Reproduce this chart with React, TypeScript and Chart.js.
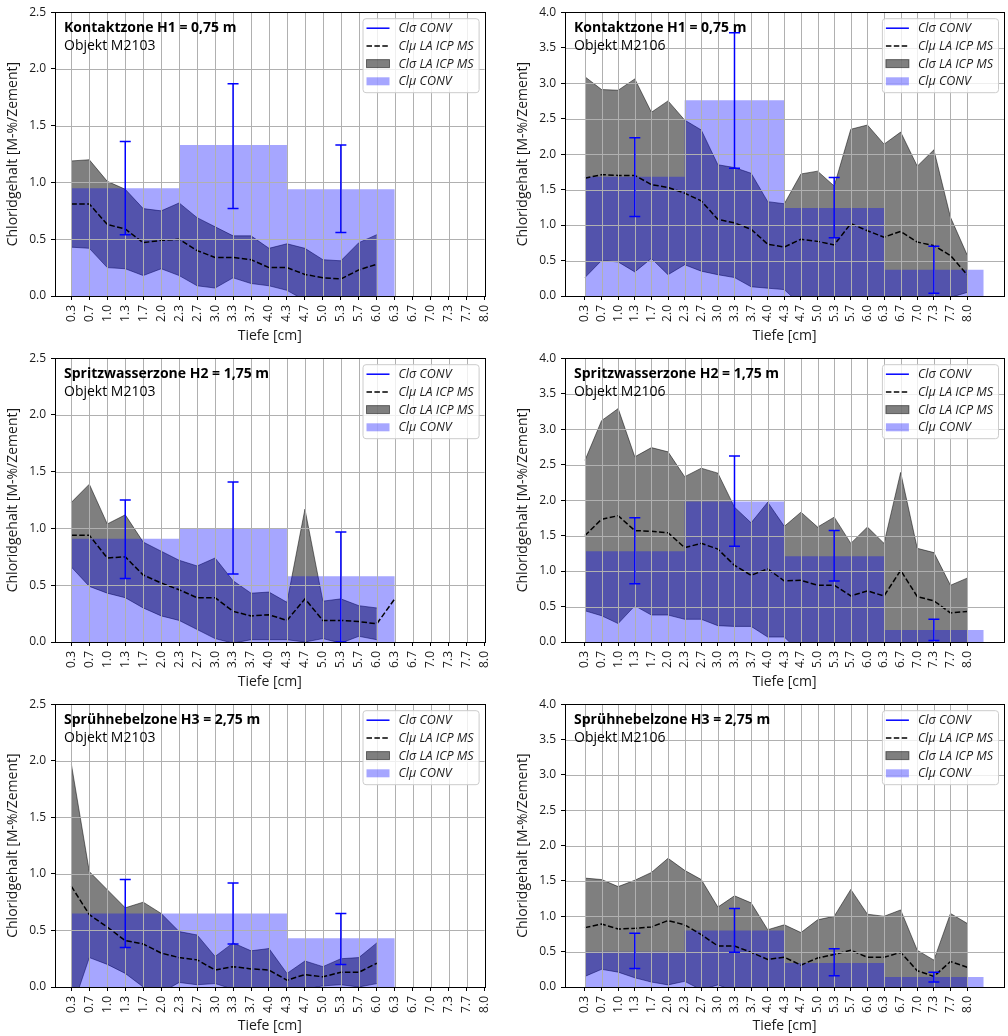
import React, { useEffect, useRef } from "react";
import { Chart, registerables } from "chart.js";

Chart.register(...registerables);

const FONT = '"Open Sans", "DejaVu Sans", sans-serif';

// depth positions (cm) and their tick labels
const DEPTH = [1/3, 2/3, 1, 4/3, 5/3, 2, 7/3, 8/3, 3, 10/3, 11/3, 4, 13/3, 14/3, 5, 16/3, 17/3, 6, 19/3, 20/3, 7, 22/3, 23/3, 8];
const TICK_LABELS = ["0.3", "0.7", "1.0", "1.3", "1.7", "2.0", "2.3", "2.7", "3.0", "3.3", "3.7", "4.0", "4.3", "4.7", "5.0", "5.3", "5.7", "6.0", "6.3", "6.7", "7.0", "7.3", "7.7", "8.0"];
// conventional sampling layers (edges) and their centres
const CONV_EDGES = [1/3, 7/3, 13/3, 19/3, 25/3];
const CONV_CENTERS = [4/3, 10/3, 16/3, 22/3];

const LEGEND_LABELS = ["Clσ CONV", "Clμ LA ICP MS", "Clσ LA ICP MS", "Clμ CONV"];
const Y_TITLE = "Chloridgehalt [M-%/Zement]";
const X_TITLE = "Tiefe [cm]";

// ---- M2103, H1
const M2103_H1_UPPER = [1.19, 1.20, 1.01, 0.94, 0.77, 0.75, 0.82, 0.69, 0.61, 0.53, 0.53, 0.42, 0.46, 0.42, 0.32, 0.31, 0.47, 0.54];
const M2103_H1_LOWER = [0.43, 0.42, 0.25, 0.24, 0.18, 0.24, 0.18, 0.09, 0.07, 0.16, 0.11, 0.09, 0.05, -0.04, -0.08, -0.08, -0.05, -0.02];
const M2103_H1_MEAN = [0.81, 0.81, 0.63, 0.59, 0.47, 0.49, 0.50, 0.40, 0.34, 0.34, 0.32, 0.25, 0.25, 0.19, 0.16, 0.15, 0.23, 0.28];
const M2103_H1_CONV = [0.95, 1.33, 0.94];
const M2103_H1_CONV_LO = [0.54, 0.77, 0.56];
const M2103_H1_CONV_HI = [1.36, 1.87, 1.33];

// ---- M2106, H1
const M2106_H1_UPPER = [3.09, 2.91, 2.90, 3.06, 2.59, 2.75, 2.48, 2.34, 1.85, 1.81, 1.73, 1.33, 1.30, 1.72, 1.76, 1.55, 2.35, 2.41, 2.14, 2.31, 1.83, 2.06, 1.11, 0.58];
const M2106_H1_LOWER = [0.26, 0.50, 0.48, 0.34, 0.53, 0.30, 0.44, 0.35, 0.30, 0.26, 0.13, 0.11, 0.09, -0.13, -0.15, -0.15, -0.15, -0.15, -0.15, -0.15, -0.12, -0.08, -0.02, 0.05];
const M2106_H1_MEAN = [1.66, 1.71, 1.70, 1.70, 1.57, 1.53, 1.45, 1.34, 1.08, 1.03, 0.94, 0.73, 0.69, 0.80, 0.77, 0.72, 1.02, 0.92, 0.83, 0.91, 0.76, 0.71, 0.57, 0.30];
const M2106_H1_CONV = [1.68, 2.76, 1.24, 0.37];
const M2106_H1_CONV_LO = [1.12, 1.80, 0.82, 0.04];
const M2106_H1_CONV_HI = [2.23, 3.71, 1.67, 0.70];

// ---- M2103, H2
const M2103_H2_UPPER = [1.23, 1.39, 1.04, 1.12, 0.88, 0.80, 0.72, 0.67, 0.74, 0.54, 0.43, 0.44, 0.35, 1.17, 0.36, 0.38, 0.32, 0.30];
const M2103_H2_LOWER = [0.66, 0.49, 0.43, 0.39, 0.30, 0.23, 0.19, 0.11, 0.03, -0.01, 0.02, 0.02, 0.02, 0.00, 0.03, -0.01, 0.05, 0.02];
const M2103_H2_MEAN = [0.94, 0.94, 0.74, 0.75, 0.59, 0.52, 0.46, 0.39, 0.39, 0.27, 0.23, 0.24, 0.19, 0.38, 0.19, 0.19, 0.18, 0.16, 0.38];
const M2103_H2_CONV = [0.91, 1.00, 0.58];
const M2103_H2_CONV_LO = [0.56, 0.60, 0.00];
const M2103_H2_CONV_HI = [1.25, 1.41, 0.97];

// ---- M2106, H2
const M2106_H2_UPPER = [2.56, 3.12, 3.29, 2.61, 2.74, 2.68, 2.33, 2.45, 2.38, 1.90, 1.68, 1.97, 1.63, 1.83, 1.62, 1.76, 1.39, 1.62, 1.39, 2.39, 1.32, 1.26, 0.80, 0.90];
const M2106_H2_LOWER = [0.44, 0.37, 0.26, 0.51, 0.38, 0.38, 0.32, 0.32, 0.23, 0.22, 0.22, 0.07, 0.07, -0.16, -0.12, -0.12, -0.12, -0.12, -0.12, -0.12, -0.10, -0.08, -0.05, -0.03];
const M2106_H2_MEAN = [1.50, 1.73, 1.78, 1.57, 1.56, 1.54, 1.33, 1.39, 1.31, 1.08, 0.94, 1.03, 0.86, 0.87, 0.80, 0.80, 0.65, 0.72, 0.65, 1.01, 0.64, 0.58, 0.41, 0.43];
const M2106_H2_CONV = [1.28, 1.98, 1.21, 0.17];
const M2106_H2_CONV_LO = [0.82, 1.35, 0.86, 0.02];
const M2106_H2_CONV_HI = [1.75, 2.62, 1.57, 0.32];

// ---- M2103, H3
const M2103_H3_UPPER = [1.97, 1.02, 0.86, 0.70, 0.75, 0.65, 0.49, 0.46, 0.27, 0.39, 0.32, 0.34, 0.12, 0.23, 0.18, 0.25, 0.26, 0.39];
const M2103_H3_LOWER = [-0.21, 0.26, 0.20, 0.12, 0.00, -0.05, 0.04, 0.02, 0.03, -0.02, -0.02, -0.02, -0.02, -0.02, 0.01, 0.02, 0.00, 0.03];
const M2103_H3_MEAN = [0.89, 0.64, 0.53, 0.41, 0.38, 0.30, 0.26, 0.24, 0.15, 0.18, 0.16, 0.15, 0.06, 0.11, 0.09, 0.13, 0.13, 0.21];
const M2103_H3_CONV = [0.65, 0.65, 0.43];
const M2103_H3_CONV_LO = [0.35, 0.38, 0.20];
const M2103_H3_CONV_HI = [0.95, 0.92, 0.65];

// ---- M2106, H3
const M2106_H3_UPPER = [1.54, 1.52, 1.42, 1.51, 1.62, 1.82, 1.65, 1.52, 1.13, 1.29, 1.19, 0.81, 0.88, 0.77, 0.95, 1.00, 1.38, 1.03, 1.00, 1.09, 0.52, 0.38, 1.04, 0.90];
const M2106_H3_LOWER = [0.15, 0.25, 0.21, 0.13, 0.07, 0.03, 0.08, -0.04, 0.03, -0.06, -0.08, -0.08, -0.08, -0.08, -0.08, -0.08, -0.08, -0.08, -0.08, -0.08, -0.06, -0.04, -0.06, -0.08];
const M2106_H3_MEAN = [0.84, 0.89, 0.82, 0.83, 0.85, 0.94, 0.88, 0.74, 0.58, 0.58, 0.49, 0.39, 0.42, 0.31, 0.41, 0.46, 0.52, 0.42, 0.42, 0.49, 0.23, 0.15, 0.36, 0.28];
const M2106_H3_CONV = [0.50, 0.80, 0.34, 0.14];
const M2106_H3_CONV_LO = [0.26, 0.49, 0.16, 0.07];
const M2106_H3_CONV_HI = [0.76, 1.11, 0.54, 0.21];

type Panel = {
  zone: string; obj: string; col: number; row: number; ymax: number;
  upper: number[]; lower: number[]; mean: number[];
  conv: number[]; convLo: number[]; convHi: number[];
};

const PANELS: Panel[] = [
  { zone: "Kontaktzone H1 = 0,75 m", obj: "Objekt M2103", col: 0, row: 0, ymax: 2.5,
    upper: M2103_H1_UPPER, lower: M2103_H1_LOWER, mean: M2103_H1_MEAN, conv: M2103_H1_CONV, convLo: M2103_H1_CONV_LO, convHi: M2103_H1_CONV_HI },
  { zone: "Kontaktzone H1 = 0,75 m", obj: "Objekt M2106", col: 1, row: 0, ymax: 4.0,
    upper: M2106_H1_UPPER, lower: M2106_H1_LOWER, mean: M2106_H1_MEAN, conv: M2106_H1_CONV, convLo: M2106_H1_CONV_LO, convHi: M2106_H1_CONV_HI },
  { zone: "Spritzwasserzone H2 = 1,75 m", obj: "Objekt M2103", col: 0, row: 1, ymax: 2.5,
    upper: M2103_H2_UPPER, lower: M2103_H2_LOWER, mean: M2103_H2_MEAN, conv: M2103_H2_CONV, convLo: M2103_H2_CONV_LO, convHi: M2103_H2_CONV_HI },
  { zone: "Spritzwasserzone H2 = 1,75 m", obj: "Objekt M2106", col: 1, row: 1, ymax: 4.0,
    upper: M2106_H2_UPPER, lower: M2106_H2_LOWER, mean: M2106_H2_MEAN, conv: M2106_H2_CONV, convLo: M2106_H2_CONV_LO, convHi: M2106_H2_CONV_HI },
  { zone: "Sprühnebelzone H3 = 2,75 m", obj: "Objekt M2103", col: 0, row: 2, ymax: 2.5,
    upper: M2103_H3_UPPER, lower: M2103_H3_LOWER, mean: M2103_H3_MEAN, conv: M2103_H3_CONV, convLo: M2103_H3_CONV_LO, convHi: M2103_H3_CONV_HI },
  { zone: "Sprühnebelzone H3 = 2,75 m", obj: "Objekt M2106", col: 1, row: 2, ymax: 4.0,
    upper: M2106_H3_UPPER, lower: M2106_H3_LOWER, mean: M2106_H3_MEAN, conv: M2106_H3_CONV, convLo: M2106_H3_CONV_LO, convHi: M2106_H3_CONV_HI },
];

const ROW_TOP = [0, 346, 692];
const ROW_H = [346, 346, 344];
const CHART_BOTTOM = [296, 296, 295];
const GRID_COLOR = "#b0b0b0";
const TEXT_COLOR = "#1a1a1a";

function PanelChart({ p }: { p: Panel }) {
  const ref = useRef<HTMLCanvasElement | null>(null);
  const W = 504;
  const H = ROW_H[p.row];
  const left = p.col === 0;
  const xmin = left ? 0.03 : -0.067;
  const xmax = left ? 8.0 : 8.74;
  const yWidth = left ? 55 : 61;
  const padRight = left ? 11 : 4;
  const xHeight = H - CHART_BOTTOM[p.row];

  useEffect(() => {
    const canvas = ref.current;
    if (!canvas) return;
    const pts = (vals: number[]) => vals.map((y, i) => ({ x: DEPTH[i], y }));
    const convPts = p.conv.map((y, i) => ({ x: CONV_EDGES[i], y }));
    convPts.push({ x: CONV_EDGES[p.conv.length], y: p.conv[p.conv.length - 1] });

    const overlay = {
      id: "overlay",
      afterDatasetsDraw(chart: any) {
        const { ctx, chartArea: ca, scales } = chart;
        const xs = scales.x, ys = scales.y;
        ctx.save();
        // grid on top
        ctx.strokeStyle = GRID_COLOR;
        ctx.lineWidth = 1;
        ctx.beginPath();
        DEPTH.forEach((v) => {
          const x = Math.round(xs.getPixelForValue(v)) + 0.5;
          ctx.moveTo(x, ca.top);
          ctx.lineTo(x, ca.bottom);
        });
        for (let v = 0.5; v < p.ymax - 1e-6; v += 0.5) {
          const y = Math.round(ys.getPixelForValue(v)) + 0.5;
          ctx.moveTo(ca.left, y);
          ctx.lineTo(ca.right, y);
        }
        ctx.stroke();

        // error bars
        ctx.save();
        ctx.beginPath();
        ctx.rect(ca.left, ca.top, ca.right - ca.left, ca.bottom - ca.top);
        ctx.clip();
        ctx.strokeStyle = "#0000ff";
        ctx.lineWidth = 1.5;
        p.conv.forEach((_, i) => {
          const x = xs.getPixelForValue(CONV_CENTERS[i]);
          const y1 = ys.getPixelForValue(p.convLo[i]);
          const y2 = ys.getPixelForValue(p.convHi[i]);
          ctx.beginPath();
          ctx.moveTo(x, y1); ctx.lineTo(x, y2);
          ctx.moveTo(x - 5.5, y1); ctx.lineTo(x + 5.5, y1);
          ctx.moveTo(x - 5.5, y2); ctx.lineTo(x + 5.5, y2);
          ctx.stroke();
        });
        ctx.restore();

        // frame
        ctx.strokeStyle = "#000";
        ctx.lineWidth = 1;
        ctx.strokeRect(Math.round(ca.left) + 0.5, Math.round(ca.top) + 0.5, Math.round(ca.right - ca.left), Math.round(ca.bottom - ca.top));

        // annotation
        ctx.fillStyle = "#000";
        ctx.textBaseline = "middle";
        ctx.textAlign = "left";
        ctx.font = `bold 14px ${FONT}`;
        ctx.fillText(p.zone, ca.left + 9, ca.top + 16);
        ctx.font = `14px ${FONT}`;
        ctx.fillText(p.obj, ca.left + 9, ca.top + 34);

        // legend
        ctx.font = `italic 12.5px ${FONT}`;
        const tw = Math.max(...LEGEND_LABELS.map((l) => ctx.measureText(l).width));
        const boxW = 36 + tw + 5;
        const boxH = 74;
        const boxR = ca.right - 6;
        const boxL = boxR - boxW;
        const boxT = ca.top + 6;
        ctx.beginPath();
        if ((ctx as any).roundRect) (ctx as any).roundRect(boxL + 0.5, boxT + 0.5, boxW, boxH, 3);
        else ctx.rect(boxL + 0.5, boxT + 0.5, boxW, boxH);
        ctx.fillStyle = "rgba(255,255,255,0.8)";
        ctx.fill();
        ctx.strokeStyle = "#cccccc";
        ctx.lineWidth = 1;
        ctx.stroke();
        const hx0 = boxL + 4, hx1 = boxL + 27;
        LEGEND_LABELS.forEach((lab, k) => {
          const cy = boxT + 10 + k * 17.7;
          if (k === 0) {
            ctx.strokeStyle = "#0000ff"; ctx.lineWidth = 1.5; ctx.setLineDash([]);
            ctx.beginPath(); ctx.moveTo(hx0, cy); ctx.lineTo(hx1, cy); ctx.stroke();
          } else if (k === 1) {
            ctx.strokeStyle = "#000"; ctx.lineWidth = 1.5; ctx.setLineDash([5.5, 2.4]);
            ctx.beginPath(); ctx.moveTo(hx0, cy); ctx.lineTo(hx1, cy); ctx.stroke();
            ctx.setLineDash([]);
          } else if (k === 2) {
            ctx.fillStyle = "rgba(0,0,0,0.5)";
            ctx.fillRect(hx0, cy - 4, hx1 - hx0, 8);
            ctx.strokeStyle = "rgba(0,0,0,0.5)"; ctx.lineWidth = 1;
            ctx.strokeRect(hx0, cy - 4, hx1 - hx0, 8);
          } else {
            ctx.fillStyle = "rgba(0,0,255,0.35)";
            ctx.fillRect(hx0, cy - 4, hx1 - hx0, 8);
          }
          ctx.fillStyle = TEXT_COLOR;
          ctx.textBaseline = "middle";
          ctx.fillText(lab, boxL + 36, cy + 0.5);
        });
        ctx.restore();
      },
    };

    const tickFont = { family: FONT, size: 12 };
    const chart = new Chart(canvas, {
      type: "line",
      data: {
        datasets: [
          { label: "lower", data: pts(p.lower), borderColor: "rgba(0,0,0,0.5)", borderWidth: 1, pointRadius: 0, fill: false, order: 5 } as any,
          { label: "Clσ LA ICP MS", data: pts(p.upper), borderColor: "rgba(0,0,0,0.5)", borderWidth: 1, pointRadius: 0, fill: { target: 0 }, backgroundColor: "rgba(0,0,0,0.5)", order: 4 },
          { label: "Clμ CONV", data: convPts, stepped: "before", borderWidth: 0, borderColor: "rgba(0,0,0,0)", pointRadius: 0, fill: "origin", backgroundColor: "rgba(0,0,255,0.35)", order: 3 },
          { label: "Clμ LA ICP MS", data: pts(p.mean), borderColor: "#000", borderWidth: 1.5, borderDash: [5.5, 2.4], pointRadius: 0, fill: false, order: 1 },
        ],
      },
      options: {
        animation: false,
        responsive: false,
        maintainAspectRatio: false,
        events: [],
        layout: { padding: { top: 11, right: padRight, bottom: 0, left: 0 } },
        plugins: { legend: { display: false }, tooltip: { enabled: false } },
        elements: { line: { tension: 0 } },
        scales: {
          x: {
            type: "linear",
            min: xmin,
            max: xmax,
            afterBuildTicks: (s: any) => { s.ticks = DEPTH.map((v) => ({ value: v })); },
            afterFit: (s: any) => { s.height = xHeight; },
            ticks: {
              autoSkip: false, minRotation: 90, maxRotation: 90, padding: 5,
              font: tickFont, color: TEXT_COLOR,
              callback: (_v: any, i: number) => TICK_LABELS[i],
            },
            grid: { drawOnChartArea: false, drawTicks: true, tickLength: 4, color: "#000" },
            border: { display: true, color: "#000" },
            title: { display: true, text: X_TITLE, font: { family: FONT, size: 14 }, color: TEXT_COLOR, padding: { top: 0, bottom: 1.5 } },
          },
          y: {
            min: 0,
            max: p.ymax,
            afterFit: (s: any) => { s.width = yWidth; },
            ticks: { stepSize: 0.5, padding: 5, font: tickFont, color: TEXT_COLOR, callback: (v: any) => Number(v).toFixed(1) },
            grid: { drawOnChartArea: false, drawTicks: true, tickLength: 4, color: "#000" },
            border: { display: true, color: "#000" },
            title: { display: true, text: Y_TITLE, font: { family: FONT, size: 14 }, color: TEXT_COLOR, padding: { top: left ? 4.6 : 10.6, bottom: 0 } },
          },
        },
      } as any,
      plugins: [overlay],
    });
    return () => chart.destroy();
  }, []);

  return (
    <canvas
      ref={ref}
      width={W}
      height={H}
      style={{ position: "absolute", left: p.col * 504, top: ROW_TOP[p.row], width: W, height: H }}
    />
  );
}

export default function App() {
  return (
    <div style={{ position: "absolute", left: 0, top: 0, width: 1008, height: 1036, overflow: "hidden", background: "#fff" }}>
      {PANELS.map((p, i) => <PanelChart key={i} p={p} />)}
    </div>
  );
}
